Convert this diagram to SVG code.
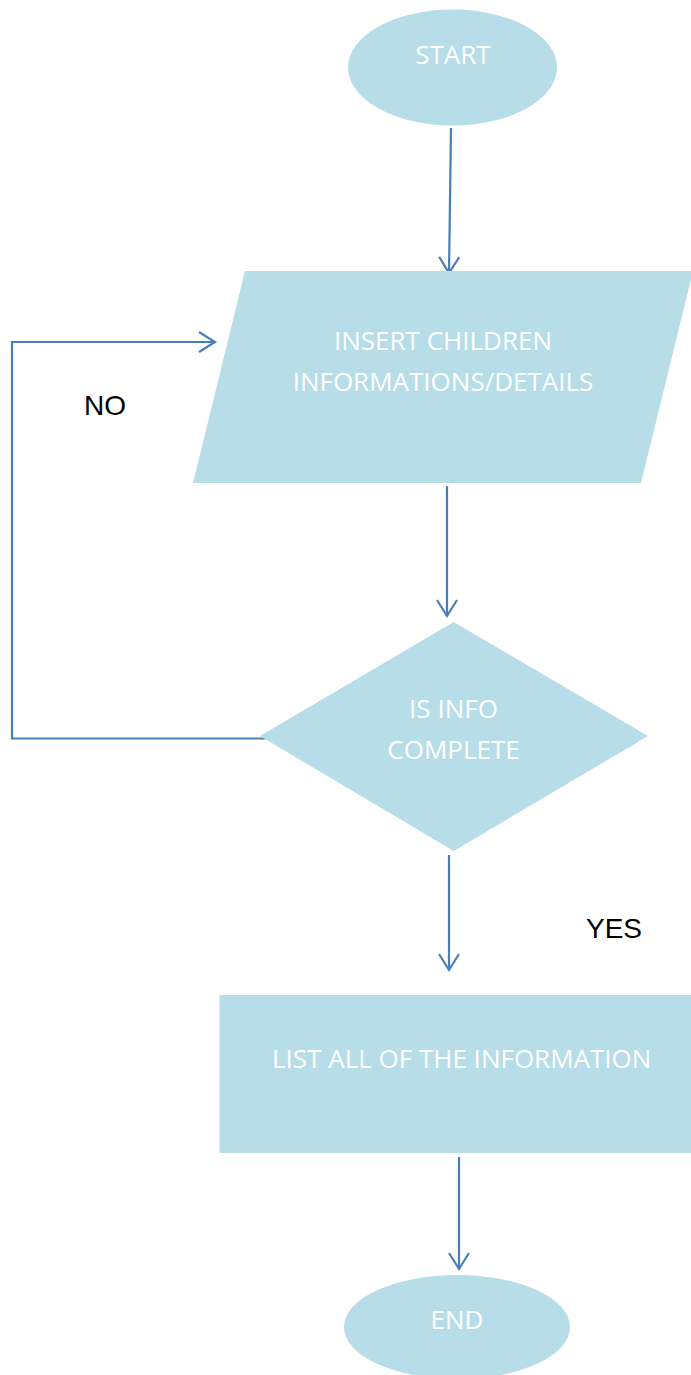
<svg xmlns="http://www.w3.org/2000/svg" width="691" height="1375" viewBox="0 0 691 1375">
<style>
.shape{fill:#B7DDE8;stroke:none}
.lbl{fill:#FFFFFF;font-family:"Open Sans","Liberation Sans",sans-serif;font-size:26px;text-anchor:middle}
.edge{fill:none;stroke:#4A7EBB;stroke-width:2.2}
.elbl{fill:#000000;font-family:"Liberation Sans",Arial,sans-serif;font-size:28px}
</style>
<defs>
<marker id="arr" markerUnits="userSpaceOnUse" markerWidth="40" markerHeight="40" viewBox="-20 -20 40 40" refX="0" refY="0" orient="auto">
<path d="M-16,-10 L0,0 L-16,10" fill="none" stroke="#4A7EBB" stroke-width="2.2"/>
</marker>
</defs>
<g id="connectors">
<path class="edge" d="M451,128 L449,273" marker-end="url(#arr)"/>
<path class="edge" d="M447,486 L447,616" marker-end="url(#arr)"/>
<path class="edge" d="M449,855 L449,970" marker-end="url(#arr)"/>
<path class="edge" d="M459,1157 L459,1269" marker-end="url(#arr)"/>
<path class="edge" d="M273,738.5 L12,738.5 L12,342 L215,342" marker-end="url(#arr)"/>
</g>
<g id="start">
<ellipse class="shape" cx="452.5" cy="67.5" rx="104.5" ry="58"/>
<text class="lbl" x="453" y="64">START</text>
</g>
<g id="insert">
<polygon class="shape" points="245,271 693,271 641,483 193,483"/>
<text class="lbl" x="443" y="350">INSERT CHILDREN</text>
<text class="lbl" x="443" y="391">INFORMATIONS/DETAILS</text>
</g>
<g id="decision">
<polygon class="shape" points="453.7,622 648,736 453.7,851 260,736"/>
<text class="lbl" x="453.5" y="718">IS INFO</text>
<text class="lbl" x="453.5" y="759">COMPLETE</text>
</g>
<g id="list">
<rect class="shape" x="219.5" y="995" width="472" height="158"/>
<text class="lbl" x="461.7" y="1068">LIST ALL OF THE INFORMATION</text>
</g>
<g id="end">
<ellipse class="shape" cx="457" cy="1327" rx="113" ry="52"/>
<text class="lbl" x="457" y="1329">END</text>
</g>
<g id="edge-labels">
<text class="elbl" x="84" y="415">NO</text>
<text class="elbl" x="586" y="938">YES</text>
</g>
</svg>
